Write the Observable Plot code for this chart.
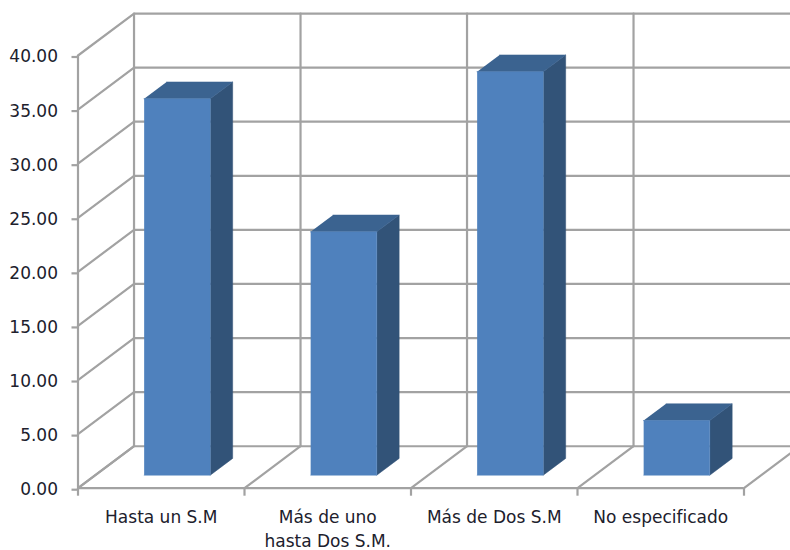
<!DOCTYPE html>
<html lang="es">
<head>
<meta charset="utf-8">
<style>
html,body{margin:0;padding:0;background:#fff;overflow:hidden}
svg{display:block}
</style>
<script src="https://cdn.jsdelivr.net/npm/d3@7"></script>
<script src="https://cdn.jsdelivr.net/npm/@observablehq/plot@0.6"></script>
</head>
<body>
<script>
const categories = ["Hasta un S.M", "Más de uno\nhasta Dos S.M.", "Más de Dos S.M", "No especificado"];
const values = [34.8, 22.5, 37.3, 5.05];
const yTicks = [0, 5, 10, 15, 20, 25, 30, 35, 40];

// oblique projection: depth 0 = front plane, depth 1 = back wall (in data units)
const depthX = 0.3365, depthY = 3.88;
const P = (c, v, d) => ({x: c + d * depthX, y: v + d * depthY});

const slots = d3.range(categories.length + 1);
const gridLines = [
  ...yTicks.map(v => ({k: "h" + v, pts: [P(0, v, 0), P(0, v, 1), P(slots.length - 1, v, 1)]})),
  ...slots.map(c => ({k: "f" + c, pts: [P(c, 0, 0), P(c, 0, 1)]})),
  ...slots.map(c => ({k: "v" + c, pts: [P(c, 0, 1), P(c, 40, 1)]}))
].flatMap(l => l.pts.map(p => ({...p, k: l.k})));

// Bar box position inside its slot
const x0 = 0.293, x1 = 0.69, d0 = 0.31, d1 = 0.71;
const face = (name, i, pts) => pts.map(p => ({...p, k: name + i}));
const frontFaces = [], topFaces = [], sideFaces = [];
values.forEach((v, i) => {
  const a = i + x0, b = i + x1;
  frontFaces.push(...face("fr", i, [P(a, 0, d0), P(b, 0, d0), P(b, v, d0), P(a, v, d0)]));
  topFaces.push(...face("to", i, [P(a, v, d0), P(b, v, d0), P(b, v, d1), P(a, v, d1)]));
  sideFaces.push(...face("si", i, [P(b, 0, d0), P(b, 0, d1), P(b, v, d1), P(b, v, d0)]));
});

const grey = "#a2a2a2";
const lineW = 2.2;
const faceMark = (data, color) => Plot.line(data, {x: "x", y: "y", z: "k", fill: color, stroke: color, strokeWidth: 0.5});

const chart = Plot.plot({
  width: 790,
  height: 550,
  marginLeft: 77.5,
  marginRight: 46.5,
  marginTop: 55,
  marginBottom: 62.3,
  style: {background: "#fff", color: "#20202c"},
  x: {domain: [0, categories.length], axis: null},
  y: {domain: [0, 40], axis: null},
  marks: [
    Plot.line(gridLines, {x: "x", y: "y", z: "k", stroke: grey, strokeWidth: lineW}),
    Plot.ruleX([0], {y1: 0, y2: 40, stroke: grey, strokeWidth: lineW}),
    Plot.ruleY([0], {x1: 0, x2: categories.length, stroke: grey, strokeWidth: lineW}),
    faceMark(sideFaces, "#325378"),
    faceMark(topFaces, "#3b6390"),
    faceMark(frontFaces, "#4f81bd"),
    Plot.axisY({
      ticks: yTicks, tickFormat: d3.format(".2f"), tickSize: 6, tickPadding: 14,
      stroke: grey, strokeWidth: lineW, label: null,
      fontFamily: "DejaVu Sans", fontSize: 17, dy: 1.5, fill: "#20202c"
    }),
    Plot.axisX({
      ticks: slots, tickFormat: () => null, tickSize: 8,
      stroke: grey, strokeWidth: lineW, label: null
    }),
    Plot.text(categories, {
      x: (d, i) => i + 0.5, y: () => 0,
      text: d => d, lineAnchor: "top", dy: 18, lineHeight: 1.41,
      fontFamily: "DejaVu Sans", fontSize: 17, fill: "#20202c"
    })
  ]
});
document.body.append(chart);
</script>
</body>
</html>
